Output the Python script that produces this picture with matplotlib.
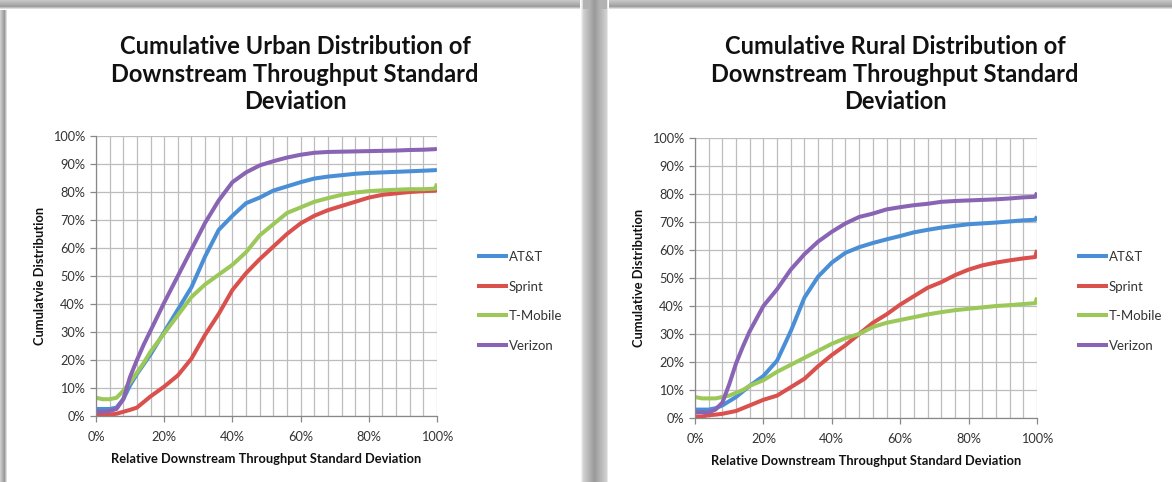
import numpy as np
import matplotlib
matplotlib.use("Agg")
import matplotlib.pyplot as plt
from matplotlib.ticker import MultipleLocator, PercentFormatter

plt.rcParams['font.family'] = ['Lato', 'DejaVu Sans']

# relative downstream throughput std dev (%), shared by all series
x_pct = [0, 2, 4, 6, 8, 10, 12, 14, 16, 20, 24, 28, 32, 36, 40, 44, 48, 52,
         56, 60, 64, 68, 72, 76, 80, 84, 88, 92, 96, 99.5, 100]

carriers = ['AT&T', 'Sprint', 'T-Mobile', 'Verizon']
colors = ['#4a8fd6', '#d9504c', '#9cc85a', '#8a64b4']

# urban cumulative distribution (%)
urban_att = [2.5, 2.5, 2.5, 3, 6, 11, 15, 18.5, 22, 30, 38, 46, 57, 66.5, 71.5, 76, 78, 80.5,
             82, 83.5, 84.8, 85.5, 86, 86.5, 86.8, 87, 87.2, 87.4, 87.6, 87.8, 88]
urban_sprint = [0.5, 0.5, 0.5, 0.8, 1.5, 2.2, 3, 5, 7, 10.5, 14.5, 20.5, 29, 36.5, 45, 51, 56, 60.5,
                65, 68.8, 71.5, 73.5, 75, 76.5, 78, 79, 79.5, 80, 80.3, 80.5, 81]
urban_tmobile = [6.5, 6, 6, 6.5, 9, 12, 15.5, 19, 23, 29.5, 36, 42.5, 47, 50.5, 54, 58.5, 64.5, 68.5,
                 72.5, 74.5, 76.5, 77.8, 79, 79.8, 80.3, 80.6, 80.8, 81, 81, 81.2, 83]
urban_verizon = [1.5, 1.5, 1.8, 2.5, 6, 14, 20, 25.5, 30.5, 40.5, 50, 59.5, 69, 77, 83.5, 87, 89.5, 91,
                 92.3, 93.3, 94, 94.3, 94.4, 94.5, 94.6, 94.7, 94.8, 95, 95.1, 95.3, 95.5]

# rural cumulative distribution (%)
rural_att = [3, 3, 3, 3.5, 4.5, 6, 7.5, 9.5, 11.5, 15, 20.5, 31, 43, 50.5, 55.5, 59, 61, 62.5,
             63.8, 65, 66.3, 67.2, 68, 68.6, 69.2, 69.5, 69.8, 70.2, 70.6, 70.8, 72]
rural_sprint = [0.5, 0.5, 1, 1.2, 1.5, 2, 2.5, 3.5, 4.5, 6.5, 8, 11, 14, 18.5, 22.5, 26, 30, 34,
                37, 40.5, 43.5, 46.5, 48.5, 51, 53, 54.5, 55.5, 56.3, 57, 57.5, 60]
rural_tmobile = [7.5, 7, 7, 7, 7.5, 8, 9, 10, 11.5, 13.5, 16.5, 19, 21.5, 24, 26.5, 28.5, 30, 32.5,
                 34, 35, 36, 37, 37.8, 38.5, 39, 39.5, 40, 40.3, 40.7, 41, 43]
rural_verizon = [2, 2, 2, 3, 5.5, 12, 19.5, 25.5, 31, 40, 46, 53, 58.5, 63, 66.5, 69.5, 71.8, 73,
                 74.5, 75.3, 76, 76.5, 77.2, 77.5, 77.7, 77.9, 78.1, 78.4, 78.8, 79, 80.5]

W, H = 1172, 482
fig = plt.figure(figsize=(W / 100, H / 100), dpi=100)
fig.patch.set_facecolor('white')

# grey frame / shadow behind the two white panels
bg = np.ones((H, W))
for r in range(10):
    bg[r, :] = np.interp(r, [0, 6, 9], [0.78, 0.62, 1.0])
for c in range(8):
    bg[10:, c] = np.minimum(bg[10:, c], np.interp(c, [0, 4, 7], [0.8, 0.6, 1.0]))
gap = np.arange(580, 609)
bg[:, gap] = np.interp(gap, [580, 583, 594, 606, 608], [1.0, 0.82, 0.6, 0.82, 1.0])
bg[:9, 583:607] = np.minimum(bg[:9, 583:607], 0.7)
img = (np.dstack([bg, bg, bg]) * 255).astype(np.uint8)
fig.figimage(img, xo=0, yo=0, origin='upper', zorder=0)


def draw_panel(rect, series, title, ylabel, title_x, legend_x):
    ax = fig.add_axes(rect)
    ax.set_zorder(2)
    ax.set_facecolor('white')
    for vals, col, name in zip(series, colors, carriers):
        ax.plot(x_pct, vals, color=col, lw=2.9, label=name, solid_capstyle='butt')
    ax.set_xlim(0, 100)
    ax.set_ylim(0, 100)
    ax.xaxis.set_major_locator(MultipleLocator(20))
    ax.xaxis.set_minor_locator(MultipleLocator(4))
    ax.yaxis.set_major_locator(MultipleLocator(10))
    ax.xaxis.set_major_formatter(PercentFormatter(decimals=0))
    ax.yaxis.set_major_formatter(PercentFormatter(decimals=0))
    ax.grid(which='both', color='#bdbdbd', lw=0.9)
    ax.set_axisbelow(True)
    ax.tick_params(which='major', length=4, width=0.9, color='#888888',
                   labelsize=9.2, labelcolor='#333333')
    ax.tick_params(axis='x', which='major', pad=7)
    ax.tick_params(axis='y', which='major', pad=4)
    ax.tick_params(which='minor', length=0)
    for side in ['top', 'right']:
        ax.spines[side].set_visible(False)
    for side in ['left', 'bottom']:
        ax.spines[side].set_color('#888888')
        ax.spines[side].set_linewidth(0.9)
    ax.set_xlabel('Relative Downstream Throughput Standard Deviation',
                  fontsize=9.3, fontweight='bold', labelpad=7, color='#111111')
    ax.set_ylabel(ylabel, fontsize=9.3, fontweight='bold', labelpad=5, color='#111111')
    fig.text(title_x, 1 - 74 / H, title, ha='center', va='center', fontsize=17,
             fontweight='bold', linespacing=1.25, color='#111111', zorder=3)
    leg = fig.legend(loc='upper left', bbox_to_anchor=(legend_x, 1 - 251 / H), frameon=False,
                     fontsize=9.5, handlelength=2.35, handletextpad=0.05, labelspacing=1.33,
                     borderaxespad=0, borderpad=0, labelcolor='#333333',
                     handles=ax.get_lines())
    leg.set_zorder(3)
    return ax


draw_panel([96 / W, 1 - 416 / H, 341 / W, 280 / H],
           [urban_att, urban_sprint, urban_tmobile, urban_verizon],
           'Cumulative Urban Distribution of\nDownstream Throughput Standard\nDeviation',
           'Cumulatvie Distribution', 295 / W, 477 / W)
draw_panel([695 / W, 1 - 418 / H, 342 / W, 280 / H],
           [rural_att, rural_sprint, rural_tmobile, rural_verizon],
           'Cumulative Rural Distribution of\nDownstream Throughput Standard\nDeviation',
           'Cumulative Distribution', 895 / W, 1077 / W)

fig.savefig('out.png', dpi=100)
